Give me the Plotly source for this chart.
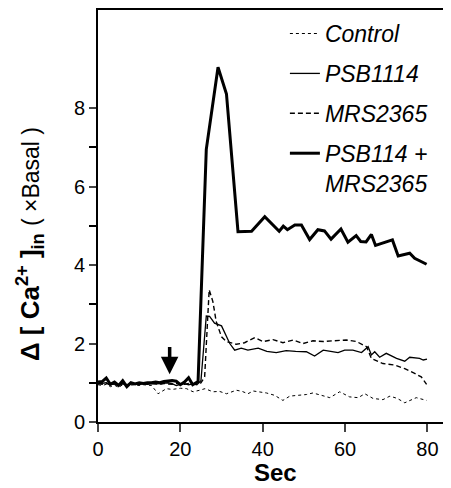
import plotly.graph_objects as go

# ---- data ----
control_t = [0, 1, 2, 3, 4, 5, 6, 7, 8, 9, 10, 11, 12, 13, 14.6, 16.6, 18, 20, 21.5, 23.1, 24.7, 26, 27.9, 29.5, 31.2, 33.6, 35, 36.4, 37.7, 39.3, 40.9, 42.9, 44.9, 46.6, 49, 50.6, 52.2, 54.3, 56.3, 58.7, 61.1, 63.2, 64.8, 66.8, 69.2, 70.9, 72.7, 74.5, 77.3, 79.8]
control_v = [0.95, 0.93, 0.96, 0.9, 0.94, 0.88, 0.95, 0.92, 0.94, 0.95, 0.93, 0.95, 0.94, 0.93, 0.72, 0.85, 0.83, 0.86, 0.85, 0.77, 0.81, 0.85, 0.77, 0.78, 0.72, 0.81, 0.78, 0.72, 0.79, 0.76, 0.74, 0.68, 0.55, 0.66, 0.68, 0.7, 0.74, 0.68, 0.62, 0.77, 0.64, 0.62, 0.72, 0.6, 0.57, 0.66, 0.6, 0.49, 0.62, 0.55]

psb_t = [0, 1, 2, 3, 4, 5, 6, 7, 8, 9, 10, 11, 12, 13, 14, 15, 16, 17, 18, 19, 20, 21, 22, 23, 24, 25, 26.3, 27.1, 28.3, 30, 32, 33.2, 34.8, 36.4, 38.9, 41, 43.3, 45.7, 48, 50.6, 52.6, 54.7, 56.5, 58.3, 59.9, 61.9, 64, 65.6, 66.4, 67.2, 68.4, 70, 72.5, 74.5, 75.7, 78.1, 79, 79.9]
psb_v = [0.97, 0.98, 1.0, 0.95, 0.97, 0.92, 0.98, 0.95, 0.97, 0.96, 0.98, 0.97, 0.96, 0.98, 0.97, 0.98, 0.99, 1.0, 0.98, 0.93, 0.96, 0.98, 0.95, 0.97, 0.95, 1.05, 2.7, 2.69, 2.52, 2.45, 2.0, 1.83, 1.88, 1.83, 1.88, 1.8, 1.77, 1.82, 1.8, 1.79, 1.68, 1.83, 1.8, 1.77, 1.83, 1.83, 1.77, 1.92, 1.71, 1.79, 1.65, 1.75, 1.62, 1.55, 1.65, 1.62, 1.58, 1.6]

mrs_t = [0, 1, 2, 3, 4, 5, 6, 7, 8, 9, 10, 11, 12, 13, 14, 15, 16, 17, 18, 19, 20, 21, 22, 23, 24, 25, 25.9, 27, 27.9, 28.7, 30, 31.2, 33.6, 35.6, 38.1, 40.1, 42.5, 44.9, 47.4, 49.8, 52.2, 54.7, 57.1, 60.3, 62.8, 65.2, 66.4, 69.2, 72.1, 74.5, 76.9, 78.5, 79.8]
mrs_v = [0.98, 0.96, 0.99, 0.94, 0.97, 0.95, 0.98, 0.96, 0.99, 0.97, 0.95, 0.98, 0.97, 0.99, 0.97, 0.96, 0.98, 0.97, 0.96, 0.98, 0.97, 0.96, 0.98, 0.97, 0.98, 1.0, 1.15, 3.37, 3.07, 2.56, 2.17, 2.05, 1.98, 2.02, 2.15, 2.05, 2.1, 2.02, 2.09, 2.0, 2.07, 2.05, 2.07, 2.09, 2.05, 1.92, 1.62, 1.49, 1.45, 1.36, 1.24, 1.15, 0.96]

combo_t = [0, 1, 2, 3, 4, 5, 6, 7, 8, 9, 10, 11, 12, 13, 14, 15, 16, 17, 18, 19, 20, 21, 22, 23, 24.3, 26.3, 29.15, 31.2, 34.0, 37.3, 40.5, 44.0, 45, 46, 47.8, 49.4, 51.4, 53.4, 55, 56.6, 59, 60.7, 62.7, 63.8, 65.1, 66.4, 67.4, 71.5, 72.9, 75.7, 76.9, 79.8]
combo_v = [1.02, 1.03, 1.12, 0.96, 1.02, 0.93, 1.05, 0.9, 1.0, 0.97, 1.0, 0.98, 1.0, 1.0, 1.02, 1.0, 1.03, 1.05, 1.06, 1.04, 0.95, 1.02, 1.13, 0.95, 1.03, 6.95, 9.04, 8.36, 4.85, 4.86, 5.23, 4.86, 4.99, 4.9, 5.02, 5.02, 4.65, 4.9, 4.87, 4.66, 4.92, 4.58, 4.75, 4.6, 4.59, 4.78, 4.5, 4.64, 4.23, 4.3, 4.17, 4.02]

legend_names = ["Control", "PSB1114", "MRS2365", "PSB114 +<br>MRS2365"]
x_ticks = [0, 20, 40, 60, 80]
y_ticks = [0, 2, 4, 6, 8]
arrow_t = 17.4
arrow_tip, arrow_tail = 1.22, 1.95

FONT = "Liberation Sans, Arial, sans-serif"

fig = go.Figure()
series = [
    (control_t, control_v, dict(color="black", width=1, dash="dot")),
    (psb_t, psb_v, dict(color="black", width=1.3)),
    (mrs_t, mrs_v, dict(color="black", width=1.4, dash="5px,3px")),
    (combo_t, combo_v, dict(color="black", width=3)),
]
for i, (t, v, ln) in enumerate(series):
    fig.add_trace(go.Scatter(x=t, y=v, mode="lines", line=ln, name=legend_names[i],
                             legendgroup=f"g{i}"))

fig.add_annotation(x=arrow_t, y=arrow_tip, ax=arrow_t, ay=arrow_tail, xref="x", yref="y",
                   axref="x", ayref="y", showarrow=True, arrowhead=2, arrowwidth=3.5,
                   arrowsize=1.0, arrowcolor="black", text="")

fig.add_annotation(
    text="<b>Δ [ Ca<sup>2+</sup> ]<sub>in</sub></b> <span style='font-size:23px'>( ×Basal )</span>",
    textangle=-90, xref="paper", yref="paper", x=-0.194, y=0.432,
    xanchor="center", yanchor="middle", showarrow=False,
    font=dict(family=FONT, size=26, color="black"))

fig.add_annotation(
    text="<b>Sec</b>", xref="paper", yref="paper", x=0.506, y=-0.123,
    xanchor="center", yanchor="middle", showarrow=False, borderpad=0,
    font=dict(family=FONT, size=24, color="black"))

fig.update_layout(
    width=443, height=480,
    margin=dict(l=90, r=3, t=2, b=66),
    plot_bgcolor="white", paper_bgcolor="white",
    font=dict(family=FONT, color="black"),
    showlegend=True,
    legend=dict(x=0.534, y=0.995, xanchor="left", yanchor="top", bgcolor="rgba(0,0,0,0)",
                font=dict(family=FONT, size=23, color="black", style="italic"),
                tracegroupgap=7, valign="top", traceorder="grouped"),
    xaxis=dict(range=[0, 85], tickvals=x_ticks, ticks="outside", ticklen=8, tickwidth=2,
               showline=True, linewidth=2, linecolor="black", mirror=True, showgrid=False,
               zeroline=False, tickfont=dict(size=20), automargin=False),
    yaxis=dict(range=[0, 10.5], tickvals=y_ticks, ticks="outside", ticklen=7, tickwidth=2,
               showline=True, linewidth=2, linecolor="black", mirror=True, showgrid=False,
               zeroline=False, tickfont=dict(size=20), automargin=False,
               minor=dict(tickvals=[1, 3, 5, 7], ticks="outside", ticklen=7, tickwidth=2,
                          tickcolor="black", showgrid=False)),
)

fig.write_html("out.html")
